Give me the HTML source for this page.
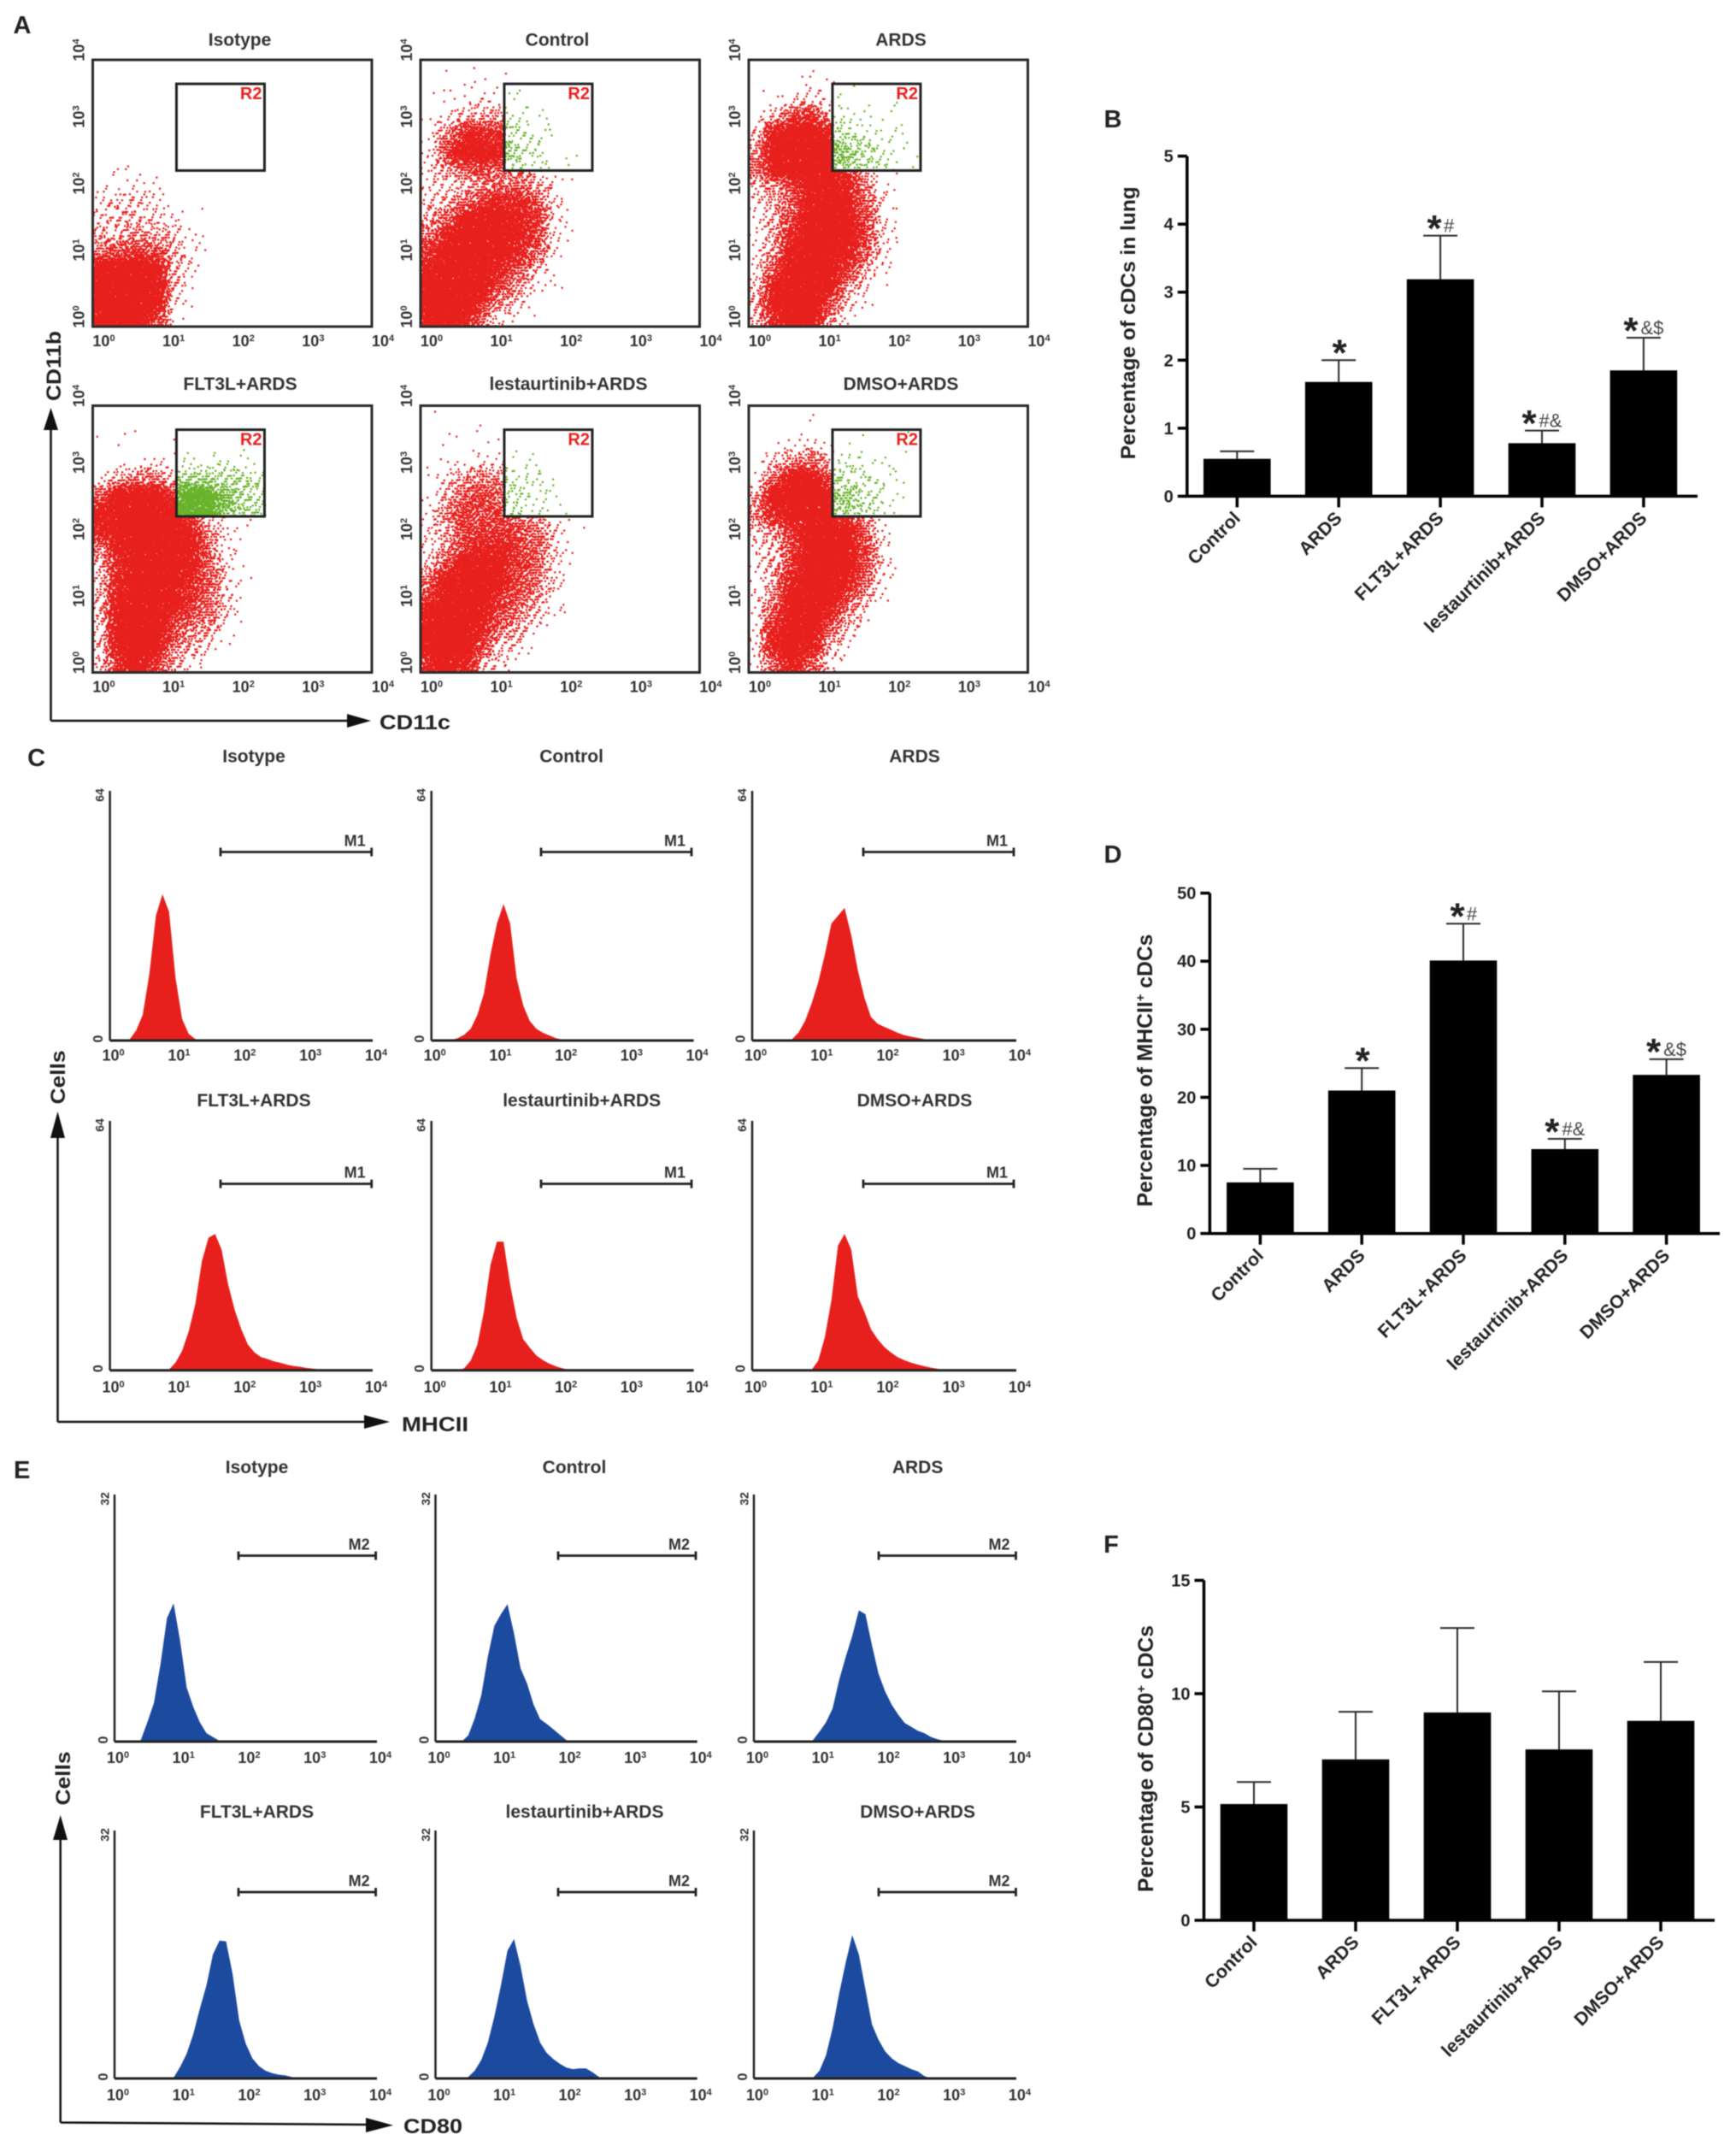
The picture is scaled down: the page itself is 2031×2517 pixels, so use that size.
<!DOCTYPE html>
<html lang="en">
<head>
<meta charset="utf-8">
<title>Flow cytometry of cDCs in lung</title>
<style>
html,body{margin:0;padding:0;background:#fff;}
#figure{display:block;width:2031px;height:2517px;font-family:"Liberation Sans",Arial,sans-serif;filter:blur(.6px);}
text{font-family:"Liberation Sans",Arial,sans-serif;font-weight:bold;}
</style>
</head>
<body>
<svg id="figure" xmlns="http://www.w3.org/2000/svg" width="2031" height="2517" viewBox="0 0 2031 2517">
  <rect x="0" y="0" width="2031" height="2517" fill="#fff"/>
  <text x="26" y="39" font-size="29" text-anchor="middle" fill="#222">A</text>
  <text x="1302" y="149" font-size="29" text-anchor="middle" fill="#222">B</text>
  <text x="42.6" y="896" font-size="29" text-anchor="middle" fill="#222">C</text>
  <text x="1302" y="1009" font-size="29" text-anchor="middle" fill="#222">D</text>
  <text x="25.7" y="1729" font-size="29" text-anchor="middle" fill="#222">E</text>
  <text x="1300" y="1816" font-size="29" text-anchor="middle" fill="#222">F</text>

  <g>
    <path d="M59.5 843V495M59.5 843H412" fill="none" stroke="#111" stroke-width="2.5"/>
    <polygon points="59.5,477 51,503 68,503" fill="#111"/>
    <polygon points="434,843 406,835 406,851" fill="#111"/>
    <text transform="translate(71,428) rotate(-90)" font-size="24" text-anchor="middle" textLength="82" lengthAdjust="spacingAndGlyphs" fill="#222">CD11b</text>
    <text x="444" y="853" font-size="24" textLength="83" lengthAdjust="spacingAndGlyphs" fill="#222">CD11c</text>
  </g>
  <g>
    <path d="M67.5 1663V1320M67.5 1663H430" fill="none" stroke="#111" stroke-width="2.5"/>
    <polygon points="67.5,1300 59,1331 76,1331" fill="#111"/>
    <polygon points="456,1663 426,1655 426,1671" fill="#111"/>
    <text transform="translate(76,1260) rotate(-90)" font-size="24" text-anchor="middle" textLength="63" lengthAdjust="spacingAndGlyphs" fill="#222">Cells</text>
    <text x="470" y="1674" font-size="24" textLength="78" lengthAdjust="spacingAndGlyphs" fill="#222">MHCII</text>
  </g>
  <g>
    <path d="M70.7 2482.5V2140M70.7 2482.5L432 2485" fill="none" stroke="#111" stroke-width="2.5"/>
    <polygon points="70.7,2123 62,2152 79,2152" fill="#111"/>
    <polygon points="460,2485.7 428,2477 428,2494" fill="#111"/>
    <text transform="translate(82,2080) rotate(-90)" font-size="24" text-anchor="middle" textLength="63" lengthAdjust="spacingAndGlyphs" fill="#222">Cells</text>
    <text x="472" y="2495" font-size="24" textLength="69" lengthAdjust="spacingAndGlyphs" fill="#222">CD80</text>
  </g>

  <text transform="translate(1328,377.7) rotate(-90)" font-size="24" text-anchor="middle" textLength="319" lengthAdjust="spacingAndGlyphs" fill="#222">Percentage of cDCs in lung</text>
  <text transform="translate(1348,1252) rotate(-90)" font-size="24.7" text-anchor="middle" fill="#222">Percentage of MHCII<tspan font-size="15" dy="-9">+</tspan><tspan dy="9"> cDCs</tspan></text>
  <text transform="translate(1349,2057) rotate(-90)" font-size="24.7" text-anchor="middle" fill="#222">Percentage of CD80<tspan font-size="15" dy="-9">+</tspan><tspan dy="9"> cDCs</tspan></text>
</svg>

<script>
/* ---------- shared categories and tick values ---------- */
const flowConditions = ['Isotype', 'Control', 'ARDS', 'FLT3L+ARDS', 'lestaurtinib+ARDS', 'DMSO+ARDS'];
const barCategories = ['Control', 'ARDS', 'FLT3L+ARDS', 'lestaurtinib+ARDS', 'DMSO+ARDS'];
const logTicks = [0, 1, 2, 3, 4];

/* ---------- panel A: dot-density per quarter-decade cell.
   Each row is one CD11b quarter decade (bottom row first), each column one CD11c quarter decade. ---------- */
const isotypeRed = [
  [300,300,300,130,3],
  [300,300,300,260,15,1],
  [300,300,300,300,25,3],
  [250,300,300,220,30,8],
  [60,90,130,100,30,12],
  [22,30,35,30,20,6],
  [16,22,22,18,8,1],
  [10,14,16,6,1],
  [3,6,8,3],
  [0,1,1]
];
const controlRed = [
  [250,280,180,50,8,1],
  [300,300,280,150,50,15,2],
  [300,300,300,280,100,45,10,2],
  [260,300,300,300,180,100,25,3],
  [130,300,300,300,280,180,70,10],
  [60,200,300,300,300,220,110,15],
  [25,70,200,280,280,220,130,15,1],
  [12,30,60,120,170,160,100,12,1],
  [8,15,25,50,60,60,40,8,2],
  [8,40,90,110,70,35,10,2],
  [5,120,250,250,200],
  [2,60,160,180,150],
  [1,8,25,40,40],
  [0,2,3,8,8],
  [1,1,2,2,2],
  [0,1,0,1]
];
const ardsRed = [
  [25,170,300,250,40,5],
  [30,250,300,300,130,25,3],
  [15,200,300,300,220,70,12,1],
  [8,100,300,300,280,140,40,5],
  [6,50,250,300,300,220,90,12,1],
  [6,30,150,300,300,250,130,15,1],
  [8,30,120,280,300,260,120,12,1],
  [10,30,100,250,300,240,90,12,1],
  [20,50,130,250,270,200,60,6,1],
  [80,220,300,300,300,100,20,3,1],
  [50,280,300,300,300],
  [10,200,300,300,200],
  [2,30,120,150,40],
  [0,3,10,20,3],
  [0,0,2,3,2],
  [0,0,0,1]
];
const flt3lRed = [
  [20,150,260,120,30,10,1],
  [20,220,300,220,70,25,10,1],
  [20,220,300,280,120,50,35,5],
  [25,250,300,300,170,100,70,12],
  [25,220,300,300,230,150,90,20,1],
  [25,180,300,300,280,170,100,20,1],
  [30,170,300,300,300,200,90,12,1],
  [60,200,300,300,300,240,60,8,2],
  [180,300,300,300,300,200,50,10,3],
  [250,300,300,300,300,100,20,3],
  [100,280,300,300,150],
  [3,40,60,70,30],
  [0,1,3,6,3],
  [0,1,0,1,1],
  [1,1,1]
];
const lestaurtinibRed = [
  [170,260,160,30,5,1],
  [250,300,250,100,30,8,1],
  [280,300,280,170,50,30,5],
  [250,300,300,230,80,60,25,2],
  [130,280,300,280,130,90,40,8],
  [60,220,300,300,200,110,70,12,1],
  [20,100,230,260,220,130,80,20,1],
  [8,40,130,180,170,130,90,20,1],
  [8,30,100,110,120,110,70,15,2],
  [5,60,120,110,90,70,30,6,2],
  [2,30,90,100,80],
  [1,15,50,60,50],
  [1,3,6,10,12],
  [0,1,0,1,1],
  [0,2,0,1],
  [0,1,0,1]
];
const dmsoRed = [
  [8,90,200,80,10,1],
  [10,200,300,180,25,5],
  [8,170,300,280,80,15,2],
  [5,100,300,300,170,50,8],
  [6,60,280,300,280,120,35,3],
  [6,40,200,300,300,220,80,10],
  [8,30,130,290,300,270,120,15],
  [8,25,110,280,300,280,120,15],
  [15,40,130,280,300,260,80,8],
  [60,180,250,300,300,120,30,3],
  [40,240,300,300,250],
  [6,100,280,300,120],
  [1,20,60,100,20],
  [0,1,5,10,3],
  [0,0,1,1,1],
  [0,0,0,1]
];
/* Events inside gate R2: rows start at quarter decade 9, columns at quarter decade 4. */
const isotypeGreen = [];
const controlGreen = [
  [20,15,10,3],
  [60,25,10,3,1],
  [40,18,6,3],
  [20,7,4,2],
  [5,1,1],
  [5,1]
];
const ardsGreen = [
  [35,45,25,10,2,2],
  [100,60,30,12,3,2],
  [30,18,12,6,3],
  [12,6,5,2,2],
  [4,1,1,0,1],
  [5,1]
];
const flt3lGreen = [
  [130,220,220,80,30,25],
  [130,220,200,80,35,20],
  [30,45,50,40,25,15],
  [2,5,4,8,6]
];
const lestaurtinibGreen = [
  [15,14,10,3],
  [30,15,10,4],
  [25,8,8,3],
  [5,4,6]
];
const dmsoGreen = [
  [35,40,22,8,2],
  [70,50,25,8,1,1],
  [35,25,15,6,3],
  [8,8,6,4,1,1],
  [2,1,1],
  [1,0,1,0,0,1]
];
const gateLogX = [1.2, 2.462];
const gateLogY = [2.34, 3.64];
const scatterRedGrids = [isotypeRed, controlRed, ardsRed, flt3lRed, lestaurtinibRed, dmsoRed];
const scatterGreenGrids = [isotypeGreen, controlGreen, ardsGreen, flt3lGreen, lestaurtinibGreen, dmsoGreen];

/* ---------- panel C and E histograms: counts per 0.1 log-decade bin, starting at 10^0 ---------- */
const histBinWidth = 0.1;
const mhciiIsotype = [0,0,0,.3,2.6,6.6,17,32,37.5,33,16,5.5,1.7,.4];
const mhciiControl = [0,0,0,.1,.6,1.5,3,6.5,12,22,30,35,30,16,9,5,3,2,1.3,.6,.2];
const mhciiArds = [0,0,0,0,0,0,.3,2,5,9.5,15,22,30,32,34,27,18,11,6,4.3,3.5,2.8,2,1.4,1,.7,.4,.2];
const mhciiFlt3l = [0,0,0,0,0,0,0,0,0,.2,2,5,10,17,28,34,35,31,22,15.5,10.5,6.6,4.6,3.4,2.9,2.3,1.9,1.4,1.1,.9,.6,.4,.2];
const mhciiLestaurtinib = [0,0,0,0,0,.5,2.5,6.5,15,27,33,33,22,13.5,8,5.8,3.8,2.6,1.7,1,.5,.1];
const mhciiDmso = [0,0,0,0,0,0,0,0,0,.1,2.5,8.5,18,32,35,31,19,15,10.5,8,6,4.6,3.4,2.6,2,1.5,1.1,.7,.4,.1];
const cd80Isotype = [0,0,0,0,.2,2.5,5,10,16,17.9,13,7,4.5,2.5,1.1,.6,.1];
const cd80Control = [0,0,0,0,0,.8,3,6,11,15,16.5,17.8,14,9.5,7.5,4.8,2.9,2.3,1.6,.9,.2];
const cd80Ards = [0,0,0,0,0,0,0,0,0,.2,1.3,2.5,4.3,8,11,13.7,17,16.5,12.5,8.8,6.5,4.8,3.5,2.4,1.9,1.4,1.1,.6,.3,.1];
const cd80Flt3l = [0,0,0,0,0,0,0,0,0,.1,1.5,3.2,5.7,9,12,16,17.8,17.7,13.5,7.5,4.5,2.6,1.6,1,.7,.5,.4,.2];
const cd80Lestaurtinib = [0,0,0,0,0,.2,1,2.4,4.6,8,12,16.5,18,14.5,10,7,4.6,3.3,2.5,1.9,1.4,1.2,1.3,1.3,.8,.2];
const cd80Dmso = [0,0,0,0,0,0,0,0,0,.1,1,3,6.5,11,15,18.5,16,11.5,7,5,3.5,2.6,2,1.6,1.2,.9,.3];
const mhciiSeries = [mhciiIsotype, mhciiControl, mhciiArds, mhciiFlt3l, mhciiLestaurtinib, mhciiDmso];
const cd80Series = [cd80Isotype, cd80Control, cd80Ards, cd80Flt3l, cd80Lestaurtinib, cd80Dmso];

/* ---------- bar charts ---------- */
const bTicks = [0, 1, 2, 3, 4, 5];
const bMeans = [0.55, 1.68, 3.19, 0.78, 1.85];
const bUpper = [0.66, 2.0, 3.83, 0.965, 2.33];
const bMarks = ['', '', '#', '#&', '&$'];
const bStars = [false, true, true, true, true];
const dTicks = [0, 10, 20, 30, 40, 50];
const dMeans = [7.5, 21, 40.1, 12.4, 23.3];
const dUpper = [9.5, 24.3, 45.5, 13.9, 25.6];
const dMarks = ['', '', '#', '#&', '&$'];
const dStars = [false, true, true, true, true];
const fTicks = [0, 5, 10, 15];
const fMeans = [5.13, 7.1, 9.17, 7.54, 8.8];
const fUpper = [6.1, 9.2, 12.9, 10.1, 11.4];
const fMarks = ['', '', '', '', ''];
const fStars = [false, false, false, false, false];

/* ---------- drawing ---------- */
const NS = 'http://www.w3.org/2000/svg';
const root = document.getElementById('figure');

function make(tag, parent, attrs) {
  const e = document.createElementNS(NS, tag);
  for (const k in attrs) e.setAttribute(k, attrs[k]);
  parent.appendChild(e);
  return e;
}
function slug(s) {
  return s.toLowerCase().replace(/\+/g, '-');
}
function powerLabel(parent, exponent, x, y, rotated) {
  const t = make('text', parent, {
    'font-size': 18, 'text-anchor': 'middle', fill: '#333',
    transform: 'translate(' + x + ',' + y + ')' + (rotated ? ' rotate(-90)' : '')
  });
  t.appendChild(document.createTextNode('10'));
  const s = make('tspan', t, {'font-size': 11, dy: -6});
  s.textContent = String(exponent);
  return t;
}

/* Panel A scatter plots */
const scatterCols = [108.5, 492, 876];
const scatterRows = [70, 474.5];
const scatterW = 326.5;
const scatterH = 312;
const scatterTitleX = [[280.5, 652, 1054], [281, 665, 1054]];
const scatterTitleY = [46.6, 449];

/* Places each cell's dot count with a deterministic low-discrepancy spread (tent-shaped, reaching half a cell past its edges). */
function densityPath(grid, rowStart, colStart, toX, toY, keep, spread) {
  let d = '';
  let k = 1;
  grid.forEach(function (cells, r) {
    cells.forEach(function (n, c) {
      for (let i = 0; i < n; i++) {
        k++;
        const a = (k * 0.85667) % 1;
        const b = (k * 0.73389) % 1;
        const e = (k * 0.62870) % 1;
        const f = (k * 0.53859) % 1;
        const ox = spread ? (a + b) - 0.5 : a;
        const oy = spread ? (e + f) - 0.5 : e;
        const lx = Math.abs((colStart + c + ox) * 0.25);
        const ly = Math.abs((rowStart + r + oy) * 0.25);
        if (!keep(lx, ly)) continue;
        d += 'M' + toX(lx).toFixed(1) + ' ' + (toY(ly) - 1).toFixed(1) + 'h2.2v2.2h-2.2z';
      }
    });
  });
  return d;
}

function drawScatter(index) {
  const row = Math.floor(index / 3);
  const col = index % 3;
  const name = flowConditions[index];
  const x0 = scatterCols[col];
  const y0 = scatterRows[row];
  const toX = function (v) { return x0 + v / 4 * scatterW; };
  const toY = function (v) { return y0 + scatterH - v / 4 * scatterH; };
  const inGate = function (lx, ly) {
    return lx >= gateLogX[0] && lx <= gateLogX[1] && ly >= gateLogY[0] && ly <= gateLogY[1];
  };

  const g = make('g', root, {});
  
  

  const red = make('path', g, {
    d: densityPath(scatterRedGrids[index], 0, 0, toX, toY, function (lx, ly) { return !inGate(lx, ly); }, true),
    fill: '#e8201d'
  });
  
  

  const green = make('path', g, {
    d: densityPath(scatterGreenGrids[index], 9, 4, toX, toY, inGate, true),
    fill: '#69b32b'
  });
  
  

  const frame = make('rect', g, {
    x: x0, y: y0, width: scatterW, height: scatterH,
    fill: 'none', stroke: '#2a2a2a', 'stroke-width': 3
  });
  
  

  const gate = make('rect', g, {
    x: toX(gateLogX[0]), y: toY(gateLogY[1]),
    width: toX(gateLogX[1]) - toX(gateLogX[0]), height: toY(gateLogY[0]) - toY(gateLogY[1]),
    fill: 'none', stroke: '#222', 'stroke-width': 3
  });
  
  

  const r2 = make('text', g, {
    x: toX(gateLogX[1]) - 3, y: toY(gateLogY[1]) + 18, 'font-size': 20,
    'text-anchor': 'end', fill: '#e8201d'
  });
  r2.textContent = 'R2';
  
  

  const title = make('text', g, {
    x: scatterTitleX[row][col], y: scatterTitleY[row] + 7, 'font-size': 21,
    'text-anchor': 'middle', fill: '#333'
  });
  title.textContent = name;
  
  

  logTicks.forEach(function (t) {
    const xl = powerLabel(g, t, toX(t) + 13, y0 + scatterH + 23, false);
    
    
    const yl = powerLabel(g, t, x0 - 10, toY(t) - 11.5, true);
    
    
  });
}
flowConditions.forEach(function (c, i) { drawScatter(i); });

/* Panels C and E histograms */
const mhciiLayout = {
  prefix: 'mhcii', series: mhciiSeries, color: '#e8201d', yMax: 64, markerLabel: 'M1',
  axisX: [128.6, 504.7, 880], axisEnd: [436, 811.6, 1189],
  top: [925, 1311], base: [1217, 1602.7],
  markerFrom: [258, 633, 1010], markerTo: [434.7, 809, 1186],
  markerY: [996.5, 1384.6],
  titleX: [[297, 668.6, 1070], [297, 680.7, 1070]], titleY: [884.6, 1287],
  tickY: [1234.5, 1622.5], maxLabelDx: -7, zeroLabelDx: -14.6
};
const cd80Layout = {
  prefix: 'cd80', series: cd80Series, color: '#1b4a9e', yMax: 32, markerLabel: 'M2',
  axisX: [134, 509.5, 882], axisEnd: [441, 815.7, 1189],
  top: [1748, 2141], base: [2037, 2431],
  markerFrom: [279, 653, 1028], markerTo: [439.6, 814, 1188.5],
  markerY: [1819.5, 2213],
  titleX: [[300.5, 672, 1073.6], [300.5, 684, 1073.6]], titleY: [1716, 2119],
  tickY: [2056, 2450.5], maxLabelDx: -6.5, zeroLabelDx: -14
};

function drawHistogram(layout, index) {
  const row = Math.floor(index / 3);
  const col = index % 3;
  const name = flowConditions[index];
  const ax = layout.axisX[col];
  const end = layout.axisEnd[col];
  const top = layout.top[row];
  const base = layout.base[row];
  const toX = function (v) { return ax + v / 4 * (end - ax); };
  const toY = function (v) { return base - v / layout.yMax * (base - top); };

  const g = make('g', root, {});
  
  

  const counts = layout.series[index];
  let pts = toX(0) + ',' + toY(0);
  counts.forEach(function (c, i) {
    pts += ' ' + toX(i * histBinWidth).toFixed(1) + ',' + toY(c).toFixed(1);
  });
  pts += ' ' + toX(counts.length * histBinWidth).toFixed(1) + ',' + toY(0);
  const area = make('polygon', g, {points: pts, fill: layout.color});
  
  

  const yAxis = make('line', g, {x1: ax, y1: top, x2: ax, y2: base, stroke: '#222', 'stroke-width': 2.5});
  
  

  const xAxis = make('line', g, {x1: ax, y1: base, x2: end, y2: base, stroke: '#222', 'stroke-width': 3});
  
  

  const my = layout.markerY[row];
  const mFrom = layout.markerFrom[col];
  const mTo = layout.markerTo[col];
  const marker = make('path', g, {
    d: 'M' + mFrom + ' ' + (my - 5) + 'V' + (my + 5) + 'M' + mFrom + ' ' + my + 'H' + mTo + 'M' + mTo + ' ' + (my - 5) + 'V' + (my + 5),
    fill: 'none', stroke: '#222', 'stroke-width': 2.8
  });
  
  

  const mLabel = make('text', g, {
    x: mTo - 7, y: my - 7, 'font-size': 18, 'text-anchor': 'end', fill: '#333'
  });
  mLabel.textContent = layout.markerLabel;
  
  

  const title = make('text', g, {
    x: layout.titleX[row][col], y: layout.titleY[row] + 7, 'font-size': 21,
    'text-anchor': 'middle', fill: '#333'
  });
  title.textContent = name;
  
  

  logTicks.forEach(function (t) {
    const xl = powerLabel(g, t, toX(t) + 4, layout.tickY[row] + 6, false);
    
    
  });

  const maxLabel = make('text', g, {
    'font-size': 14, 'text-anchor': 'middle', fill: '#333',
    transform: 'translate(' + (ax + layout.maxLabelDx) + ',' + (top + 5) + ') rotate(-90)'
  });
  maxLabel.textContent = String(layout.yMax);
  
  

  const zeroLabel = make('text', g, {
    'font-size': 16, 'text-anchor': 'middle', fill: '#333',
    transform: 'translate(' + (ax + layout.zeroLabelDx + 6) + ',' + (base - 2) + ') rotate(-90)'
  });
  zeroLabel.textContent = '0';
  
  
}
flowConditions.forEach(function (c, i) { drawHistogram(mhciiLayout, i); });
flowConditions.forEach(function (c, i) { drawHistogram(cd80Layout, i); });

/* Panels B, D, F bar charts */
function drawBars(cfg) {
  const g = make('g', root, {});
  
  

  const yMax = cfg.ticks[cfg.ticks.length - 1];
  const toY = function (v) { return cfg.y0 - v / yMax * (cfg.y0 - cfg.yTop); };
  const toX = function (i) { return cfg.firstX + i * cfg.spacing; };

  barCategories.forEach(function (cat, i) {
    const cx = toX(i);
    const err = make('path', g, {
      d: 'M' + cx + ' ' + toY(cfg.means[i]) + 'V' + toY(cfg.upper[i]) + 'M' + (cx - 20) + ' ' + toY(cfg.upper[i]) + 'H' + (cx + 20),
      fill: 'none', stroke: '#2a2a2a', 'stroke-width': 2
    });
    
    

    const bar = make('rect', g, {
      x: cx - 39.3, y: toY(cfg.means[i]), width: 78.6, height: cfg.y0 - toY(cfg.means[i]), fill: '#000'
    });
    
    

    const tick = make('line', g, {
      x1: cx, y1: cfg.y0, x2: cx, y2: cfg.y0 + 13, stroke: '#000', 'stroke-width': 3.5
    });
    
    

    const ax = cx + 5;
    const ay = cfg.y0 + 27;
    const label = make('text', g, {
      'font-size': 21.5, 'text-anchor': 'end', fill: '#222',
      transform: 'translate(' + ax + ',' + ay + ') rotate(-45)'
    });
    label.textContent = cat;
    
    

    const suffix = cfg.marks[i];
    if (cfg.stars[i]) {
      const star = make('text', g, {
        x: cx + (suffix.length === 0 ? 1 : suffix.length === 1 ? -7 : -15),
        y: toY(cfg.upper[i]) + 6.3, 'font-size': 44, 'text-anchor': 'middle', fill: '#222'
      });
      star.textContent = '*';
      
      
    }
    if (suffix) {
      const sym = make('text', g, {
        x: cx + 10, y: toY(cfg.upper[i]) - 4, 'font-size': 22, 'text-anchor': 'middle', fill: '#444'
      });
      sym.style.fontWeight = 'normal';
      sym.textContent = suffix;
      
      
    }
  });

  const axes = make('path', g, {
    d: 'M' + cfg.axisX + ' ' + cfg.yTop + 'V' + cfg.y0 + 'H' + cfg.xEnd,
    fill: 'none', stroke: '#000', 'stroke-width': 3.5
  });
  
  

  cfg.ticks.forEach(function (t) {
    const tick = make('line', g, {
      x1: cfg.axisX - 11, y1: toY(t), x2: cfg.axisX, y2: toY(t), stroke: '#000', 'stroke-width': 3.5
    });
    
    

    const label = make('text', g, {
      x: cfg.axisX - 16, y: toY(t) + 7, 'font-size': 20, 'text-anchor': 'end', fill: '#222'
    });
    label.textContent = String(t);
    
    
  });
}
drawBars({prefix: 'cdc', ticks: bTicks, means: bMeans, upper: bUpper, marks: bMarks, stars: bStars,
  axisX: 1388.8, yTop: 182.6, y0: 580.4, xEnd: 1986, firstX: 1447.3, spacing: 118.9});
drawBars({prefix: 'mhcii', ticks: dTicks, means: dMeans, upper: dUpper, marks: dMarks, stars: dStars,
  axisX: 1415.4, yTop: 1044.6, y0: 1442.7, xEnd: 2012, firstX: 1474.4, spacing: 118.8});
drawBars({prefix: 'cd80', ticks: fTicks, means: fMeans, upper: fUpper, marks: fMarks, stars: fStars,
  axisX: 1408.5, yTop: 1848.4, y0: 2246, xEnd: 2006, firstX: 1467, spacing: 119});
</script>
</body>
</html>
